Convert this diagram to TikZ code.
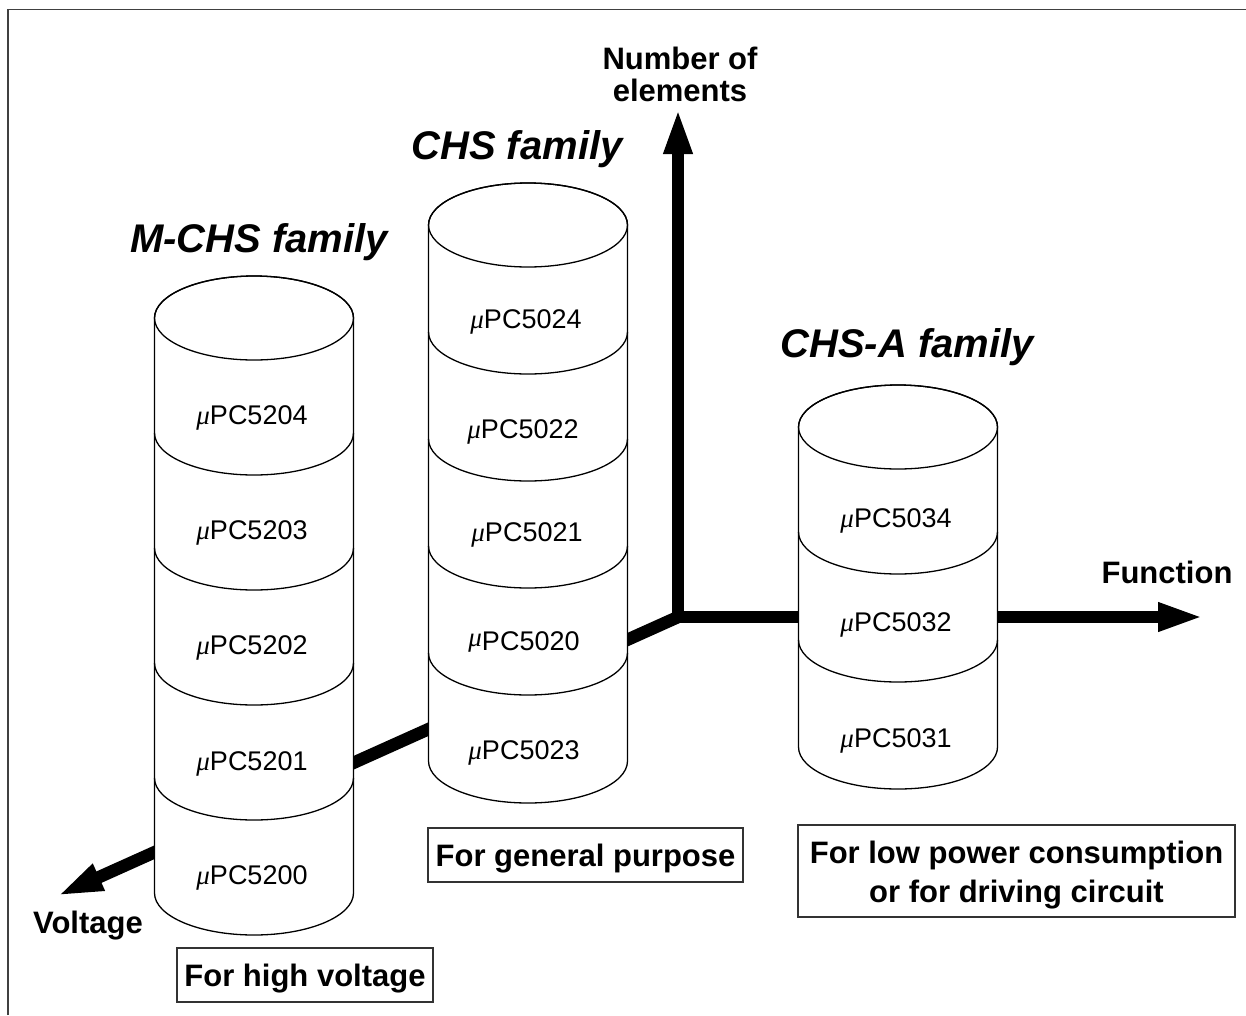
\documentclass[tikz,border=0pt]{standalone}
\usepackage{fontspec}
\setmainfont{Liberation Sans}
\newfontfamily\grk{Liberation Serif}
\usetikzlibrary{arrows.meta}
\newcommand\mupc[1]{{\grk\itshape μ}PC#1}
\newcommand\drawcyl[4]{%
  \filldraw[cylline, fill=white] (#1-99.5,#2) -- (#1-99.5,#3)
     arc[start angle=180,end angle=0,x radius=99.5,y radius=42] -- (#1+99.5,#2)
     arc[start angle=0,end angle=-180,x radius=99.5,y radius=42] -- cycle;
  \draw[cylline] (#1,#2) ellipse[x radius=99.5, y radius=42];
  \foreach \s in {#4}{\draw[cylline] (#1-99.5,\s) arc[start angle=180,end angle=0,x radius=99.5,y radius=42];}
}
\begin{document}
\begin{tikzpicture}[x=1pt,y=-1pt,
  cylline/.style={line width=1.3pt},
  axis/.style={line width=12.5pt, line join=miter},
  head/.style={Triangle[length=46pt, width=26pt]},
  ttl/.style={font=\fontsize{40}{44}\selectfont\bfseries\itshape, inner sep=0pt, text height=28.6pt, text depth=0pt},
  lab/.style={font=\fontsize{27}{30}\selectfont, inner sep=0pt, text height=19.5pt, text depth=0pt},
  axlab/.style={font=\fontsize{31}{32}\selectfont\bfseries, align=center, inner sep=0pt},
  oneline/.style={text height=22.3pt, text depth=0pt},
  boxed/.style={draw=black!80, line width=1.5pt, font=\fontsize{31}{39}\selectfont\bfseries, align=center, inner sep=0pt}]
\useasboundingbox (0,0) rectangle (1246,1015);
% frame
\draw[line width=1.5pt, black!75] (8,1015) -- (8,9.5) -- (1246,9.5);
% axes
\coordinate (J) at (678,617);
\coordinate (Vt) at (678,108);
\coordinate (Ht) at (1204,617);
\coordinate (Dt) at (57,896);
\draw[axis, {Triangle[length=46pt, width=26pt]}-{Triangle[length=46pt, width=26pt]}] (Vt) -- (J) -- (Ht);
\draw[axis, -{Triangle[length=46pt, width=26pt]}] (J) -- (Dt);
% cylinders
\drawcyl{254}{318}{893}{433,548,663,778}
\drawcyl{528}{225}{761}{332,439,546,653}
\drawcyl{898}{427}{747}{532,640}
% labels M-CHS
\node[lab] (p5204) at (252,415) {\mupc{5204}};
\node[lab] (p5203) at (252,530) {\mupc{5203}};
\node[lab] (p5202) at (252,645) {\mupc{5202}};
\node[lab] (p5201) at (252,761) {\mupc{5201}};
\node[lab] (p5200) at (252,875) {\mupc{5200}};
% labels CHS
\node[lab] (p5024) at (526,319) {\mupc{5024}};
\node[lab] (p5022) at (523,429) {\mupc{5022}};
\node[lab] (p5021) at (527,532) {\mupc{5021}};
\node[lab] (p5020) at (524,641) {{\grk\itshape\raisebox{4pt}{μ}}PC5020};
\node[lab] (p5023) at (524,750) {\mupc{5023}};
% labels CHS-A
\node[lab] (p5034) at (896,518) {\mupc{5034}};
\node[lab] (p5032) at (896,622) {\mupc{5032}};
\node[lab] (p5031) at (896,738) {\mupc{5031}};
% titles
\node[ttl] (tm) at (259,238) {M-CHS family};
\node[ttl] (tc) at (517,145) {CHS family};
\node[ttl] (ta) at (907,343) {CHS-A family};
% axis labels
\node[axlab] (num) at (680,74) {Number of\\elements};
\node[axlab, oneline] (fun) at (1167,572) {Function};
\node[axlab, oneline] (vol) at (88,922) {Voltage};
% boxes
\node[boxed, oneline, minimum width=256pt, minimum height=54pt] (bhv) at (305,975) {For high voltage};
\node[boxed, oneline, minimum width=315pt, minimum height=54pt] (bgp) at (585.5,855) {For general purpose};
\node[boxed, minimum width=437pt, minimum height=92pt] (blp) at (1016.5,871) {};
\node[font=\fontsize{31}{39}\selectfont\bfseries, align=center, inner sep=0pt] (blpt) at (1016.5,875.5) {For low power consumption\\or for driving circuit};
\end{tikzpicture}
\end{document}
